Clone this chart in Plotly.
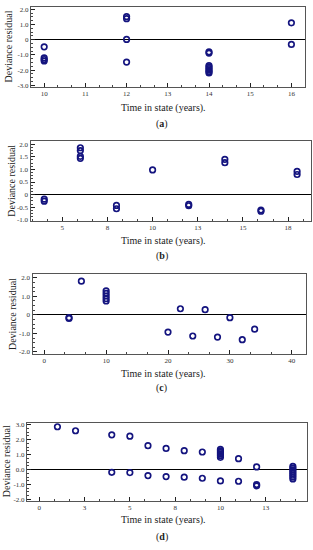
import plotly.graph_objects as go

# ---------------- data ----------------
# Panel (a)
a_x = [10, 10, 10, 10, 12, 12, 12, 12, 14, 14, 14, 14, 14, 14, 14, 14, 16, 16]
a_y = [-0.47, -1.2, -1.3, -1.4, 1.52, 1.38, 0.02, -1.47,
       -0.8, -0.88, -1.7, -1.8, -1.9, -2.0, -2.1, -2.18, 1.11, -0.31]
a_xticks = [10, 11, 12, 13, 14, 15, 16]
a_xlabels = ["10", "11", "12", "13", "14", "15", "16"]
a_yticks = [2, 1, 0, -1, -2, -3]
a_ylabels = ["2.0", "1.0", "0", "-1.0", "-2.0", "-3.0"]

# Panel (b)
b_x = [4, 4, 6, 6, 6, 6, 8, 8, 10, 12, 12, 14, 14, 16, 16, 18, 18]
b_y = [-0.18, -0.26, 1.86, 1.75, 1.52, 1.44, -0.43, -0.56, 0.98,
       -0.39, -0.44, 1.40, 1.27, -0.61, -0.66, 0.92, 0.80]
b_xticks = [5, 7.5, 10, 12.5, 15, 17.5]
b_xlabels = ["5", "8", "10", "13", "15", "18"]
b_yticks = [2, 1.5, 1, 0.5, 0, -0.5, -1]
b_ylabels = ["2.0", "1.5", "1.0", "0.5", "0", "-0.5", "-1.0"]

# Panel (c)
c_x = [4, 4, 6, 10, 10, 10, 10, 10, 20, 22, 24, 26, 28, 30, 32, 34]
c_y = [-0.15, -0.19, 1.82, 1.30, 1.16, 1.02, 0.88, 0.75,
       -0.93, 0.33, -1.14, 0.28, -1.20, -0.15, -1.34, -0.77]
c_xticks = [0, 10, 20, 30, 40]
c_xlabels = ["0", "10", "20", "30", "40"]
c_yticks = [2, 1, 0, -1, -2]
c_ylabels = ["2.0", "1.0", "0", "-1.0", "-2.0"]

# Panel (d)
d_x = [1, 2, 4, 4, 5, 5, 6, 6, 7, 7, 8, 8, 9, 9,
       10, 10, 10, 10, 10, 10, 10, 11, 11, 12, 12, 12,
       14, 14, 14, 14, 14, 14, 14, 14]
d_y = [2.87, 2.60, 2.33, -0.18, 2.24, -0.20, 1.60, -0.40, 1.42, -0.47,
       1.27, -0.51, 1.18, -0.58,
       1.35, 1.25, 1.15, 1.05, 0.95, 0.82, -0.76, 0.73, -0.78, 0.18, -1.0, -1.09,
       0.22, 0.10, -0.02, -0.14, -0.26, -0.38, -0.50, -0.63]
d_xticks = [0, 2.5, 5, 7.5, 10, 12.5]
d_xlabels = ["0", "3", "5", "8", "10", "13"]
d_yticks = [3, 2, 1, 0, -1, -2]
d_ylabels = ["3.0", "2.0", "1.0", "0.0", "-1.0", "-2.0"]

captions = ["a", "b", "c", "d"]

# ---------------- layout geometry (pixels) ----------------
W, H = 313, 550
panels = [
    dict(x=a_x, y=a_y, xt=a_xticks, xl=a_xlabels, yt=a_yticks, yl=a_ylabels,
         left=31, right=305, top=5, bottom=86, xr=[9.68, 16.33], yr=[-3.11, 2.15],
         xminor=1/3, yminor=0.25, title_y=107, cap_y=123, ylab_x=8.5),
    dict(x=b_x, y=b_y, xt=b_xticks, xl=b_xlabels, yt=b_yticks, yl=b_ylabels,
         left=30.5, right=311, top=140.5, bottom=221, xr=[3.24, 18.77], yr=[-1.03, 2.13],
         xminor=2.5/3, yminor=0.125, title_y=241.5, cap_y=256.5, ylab_x=12),
    dict(x=c_x, y=c_y, xt=c_xticks, xl=c_xlabels, yt=c_yticks, yl=c_ylabels,
         left=32.5, right=306, top=275.5, bottom=355.5, xr=[-1.9, 42.3], yr=[-2.09, 2.18],
         xminor=10/3, yminor=0.25, title_y=376, cap_y=390.5, ylab_x=12),
    dict(x=d_x, y=d_y, xt=d_xticks, xl=d_xlabels, yt=d_yticks, yl=d_ylabels,
         left=27, right=307, top=425.5, bottom=504, xr=[-0.68, 14.78], yr=[-2.07, 3.13],
         xminor=2.5/3, yminor=0.25, title_y=524, cap_y=541, ylab_x=6.5),
]

SERIF = "Liberation Serif"
MARK = "#14147f"
BORDER = "#555555"

fig = go.Figure()
annotations = []
for i, p in enumerate(panels, start=1):
    xa = "x" if i == 1 else f"x{i}"
    ya = "y" if i == 1 else f"y{i}"
    fig.add_trace(go.Scatter(
        x=p["x"], y=p["y"], mode="markers", xaxis=xa, yaxis=ya,
        marker=dict(symbol="circle-open", size=5.5, color=MARK, line=dict(width=1.7, color=MARK)),
        showlegend=False, hoverinfo="skip"))
    xdom = [p["left"] / W, p["right"] / W]
    ydom = [1 - p["bottom"] / H, 1 - p["top"] / H]
    xkey = "xaxis" if i == 1 else f"xaxis{i}"
    ykey = "yaxis" if i == 1 else f"yaxis{i}"
    fig.update_layout(**{
        xkey: dict(domain=xdom, anchor=ya, range=p["xr"], showgrid=False, zeroline=False,
                   showline=True, linecolor=BORDER, linewidth=1, mirror=True,
                   tickmode="array", tickvals=p["xt"], ticktext=p["xl"],
                   ticks="inside", ticklen=4, tickwidth=1, tickcolor="#222",
                   minor=dict(ticks="inside", ticklen=2, tickcolor="#444",
                              tickmode="linear", tick0=p["xt"][0], dtick=p["xminor"]),
                   tickfont=dict(family=SERIF, size=7, color="#333")),
        ykey: dict(domain=ydom, anchor=xa, range=p["yr"], showgrid=False,
                   zeroline=True, zerolinecolor="#000", zerolinewidth=1.3,
                   showline=True, linecolor=BORDER, linewidth=1, mirror=True,
                   tickmode="array", tickvals=p["yt"], ticktext=p["yl"],
                   ticks="inside", ticklen=4, tickwidth=1, tickcolor="#222",
                   minor=dict(ticks="inside", ticklen=2, tickcolor="#444",
                              tickmode="linear", tick0=0, dtick=p["yminor"]),
                   tickfont=dict(family=SERIF, size=7, color="#333")),
    })
    ymid = 1 - (p["top"] + p["bottom"]) / 2 / H
    annotations.append(dict(text="Deviance residual", xref="paper", yref="paper",
                            x=p["ylab_x"] / W, y=ymid, textangle=-90, showarrow=False,
                            xanchor="center", yanchor="middle",
                            font=dict(family=SERIF, size=10, color="#222")))
    annotations.append(dict(text="Time in state (years).", xref="paper", yref="paper",
                            x=163 / W, y=1 - p["title_y"] / H, showarrow=False,
                            xanchor="center", yanchor="middle",
                            font=dict(family=SERIF, size=10, color="#222")))
    annotations.append(dict(text=f"(<b>{captions[i-1]}</b>)", xref="paper", yref="paper",
                            x=162 / W, y=1 - p["cap_y"] / H, showarrow=False,
                            xanchor="center", yanchor="middle",
                            font=dict(family=SERIF, size=10, color="#222")))

fig.update_layout(width=W, height=H, margin=dict(l=0, r=0, t=0, b=0),
                  paper_bgcolor="white", plot_bgcolor="white",
                  annotations=annotations)
fig.write_html("out.html", config={"displayModeBar": False},
               post_script="document.body.style.margin='0';document.body.style.overflow='hidden';")
